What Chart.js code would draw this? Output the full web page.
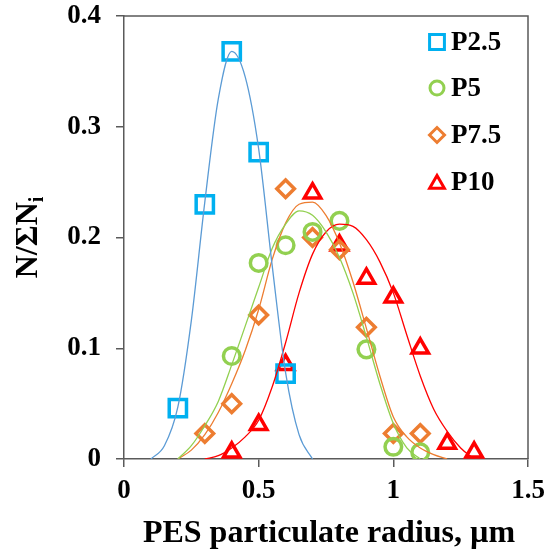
<!DOCTYPE html>
<html>
<head>
<meta charset="utf-8">
<script src="https://cdn.jsdelivr.net/npm/chart.js@4.4.0/dist/chart.umd.min.js"></script>
<style>
  body { margin: 0; background: #fff; }
  #wrap { width: 547px; height: 554px; }
</style>
</head>
<body>
<div id="wrap"><canvas id="psd"></canvas></div>
<script>
// measured points
const p25X = [0.2, 0.3, 0.4, 0.5, 0.6];
const p25Y = [0.046, 0.230, 0.368, 0.277, 0.077];
const p5X = [0.4, 0.5, 0.6, 0.7, 0.8, 0.9, 1.0, 1.1];
const p5Y = [0.093, 0.177, 0.193, 0.205, 0.215, 0.099, 0.011, 0.006];
const p75X = [0.3, 0.4, 0.5, 0.6, 0.7, 0.8, 0.9, 1.0, 1.1];
const p75Y = [0.023, 0.050, 0.130, 0.244, 0.200, 0.189, 0.119, 0.023, 0.023];
const p10X = [0.4, 0.5, 0.6, 0.7, 0.8, 0.9, 1.0, 1.1, 1.2, 1.3];
const p10Y = [0.006, 0.031, 0.085, 0.240, 0.193, 0.163, 0.146, 0.100, 0.014, 0.006];

// fitted curves
const fit25X = [0.10, 0.15, 0.20, 0.25, 0.30, 0.35, 0.40, 0.45, 0.50, 0.55, 0.60, 0.65, 0.70];
const fit25Y = [0, 0.012, 0.047, 0.125, 0.232, 0.325, 0.368, 0.345, 0.280, 0.175, 0.078, 0.022, 0];
const fit5X = [0.20, 0.25, 0.30, 0.35, 0.40, 0.45, 0.50, 0.55, 0.60, 0.65, 0.70, 0.75, 0.80, 0.85, 0.90, 0.95, 1.00, 1.05, 1.10];
const fit5Y = [0, 0.012, 0.030, 0.052, 0.085, 0.120, 0.155, 0.190, 0.212, 0.224, 0.220, 0.205, 0.182, 0.150, 0.110, 0.068, 0.032, 0.010, 0];
const fit75X = [0.20, 0.25, 0.30, 0.35, 0.40, 0.45, 0.50, 0.55, 0.60, 0.65, 0.70, 0.75, 0.80, 0.85, 0.90, 0.95, 1.00, 1.05, 1.10, 1.15, 1.20];
const fit75Y = [0, 0.008, 0.022, 0.042, 0.068, 0.098, 0.135, 0.180, 0.213, 0.230, 0.232, 0.220, 0.195, 0.160, 0.118, 0.075, 0.038, 0.020, 0.010, 0.004, 0];
const fit10X = [0.30, 0.35, 0.40, 0.45, 0.50, 0.55, 0.60, 0.65, 0.70, 0.75, 0.80, 0.85, 0.90, 0.95, 1.00, 1.05, 1.10, 1.15, 1.20, 1.25, 1.30];
const fit10Y = [0, 0.003, 0.010, 0.020, 0.035, 0.065, 0.105, 0.150, 0.185, 0.205, 0.212, 0.210, 0.198, 0.178, 0.150, 0.112, 0.075, 0.045, 0.025, 0.010, 0];

const xTicks = [0, 0.5, 1, 1.5];
const yTicks = [0, 0.1, 0.2, 0.3, 0.4];

const serif = '"Liberation Serif", "Times New Roman", serif';
const axisGray = '#5a5a5a';

function pts(xs, ys) {
  return xs.map((x, i) => ({ x: x, y: ys[i] }));
}

function curve(xs, ys, color) {
  return {
    type: 'line',
    data: pts(xs, ys),
    borderColor: color,
    borderWidth: 1.3,
    pointRadius: 0,
    fill: false,
    cubicInterpolationMode: 'monotone'
  };
}

function markers(label, xs, ys, color, style, r) {
  return {
    type: 'scatter',
    label: label,
    data: pts(xs, ys),
    pointStyle: style,
    pointRadius: r,
    pointBorderWidth: 3.5,
    pointBorderColor: color,
    pointBackgroundColor: 'rgba(255,255,255,0)',
    showLine: false
  };
}

// legend entries (drawn inside the plot box)
const legendItems = [
  { text: 'P2.5', color: '#00B0F0', style: 'rect', r: 10.5 },
  { text: 'P5', color: '#92D050', style: 'circle', r: 7 },
  { text: 'P7.5', color: '#ED7D31', style: 'rectRot', r: 7.5 },
  { text: 'P10', color: '#FF0000', style: 'triangle', r: 8.5 }
];

const decorPlugin = {
  id: 'decor',
  afterDraw(chart) {
    const ctx = chart.ctx;
    const a = chart.chartArea;
    ctx.save();
    // top and right frame
    ctx.strokeStyle = axisGray;
    ctx.lineWidth = 1.5;
    ctx.beginPath();
    ctx.moveTo(a.left, a.top);
    ctx.lineTo(a.right, a.top);
    ctx.lineTo(a.right, a.bottom);
    ctx.stroke();

    // legend
    const rows = [42, 88, 135, 182];
    legendItems.forEach((it, i) => {
      ctx.strokeStyle = it.color;
      ctx.fillStyle = 'rgba(255,255,255,0)';
      ctx.lineWidth = 3;
      Chart.helpers.drawPoint(ctx, {
        pointStyle: it.style, radius: it.r, rotation: 0, borderWidth: 3
      }, 437, rows[i] + (it.style === 'triangle' ? 2 : 0));
      ctx.fillStyle = '#000';
      ctx.font = 'bold 27px ' + serif;
      ctx.textAlign = 'left';
      ctx.textBaseline = 'middle';
      ctx.fillText(it.text, 451, rows[i] + 1);
    });

    // x title
    ctx.fillStyle = '#000';
    ctx.font = 'bold 32px ' + serif;
    ctx.textAlign = 'center';
    ctx.textBaseline = 'alphabetic';
    ctx.fillText('PES particulate radius, \u00b5m', (a.left + a.right) / 2 + 3, 542);

    // y title with subscript
    ctx.translate(37, (a.top + a.bottom) / 2);
    ctx.rotate(-Math.PI / 2);
    const main = 'N/\u03a3N';
    ctx.font = 'bold 32px ' + serif;
    const w1 = ctx.measureText(main).width;
    ctx.font = 'bold 20px ' + serif;
    const w2 = ctx.measureText('i').width;
    const start = -(w1 + w2) / 2;
    ctx.textAlign = 'left';
    ctx.font = 'bold 32px ' + serif;
    ctx.fillText(main, start, 0);
    ctx.font = 'bold 20px ' + serif;
    ctx.fillText('i', start + w1, 6);
    ctx.restore();
  }
};

new Chart(document.getElementById('psd'), {
  data: {
    datasets: [
      curve(fit25X, fit25Y, '#5B9BD5'),
      curve(fit5X, fit5Y, '#92D050'),
      curve(fit75X, fit75Y, '#ED7D31'),
      curve(fit10X, fit10Y, '#FF0000'),
      markers('P2.5', p25X, p25Y, '#00B0F0', 'rect', 12.2),
      markers('P5', p5X, p5Y, '#92D050', 'circle', 8.3),
      markers('P7.5', p75X, p75Y, '#ED7D31', 'rectRot', 8.8),
      markers('P10', p10X, p10Y, '#FF0000', 'triangle', 9.5)
    ]
  },
  options: {
    responsive: true,
    maintainAspectRatio: false,
    animation: false,
    layout: { padding: { top: 16, right: 19, left: 0, bottom: 0 } },
    plugins: {
      legend: { display: false },
      tooltip: { enabled: false }
    },
    scales: {
      x: {
        type: 'linear',
        min: 0,
        max: 1.5,
        afterFit(s) { s.height = 95; s.paddingLeft = 0; s.paddingRight = 0; },
        afterBuildTicks(s) { s.ticks = xTicks.map(v => ({ value: v })); },
        grid: { drawOnChartArea: false, tickLength: 8, color: axisGray, lineWidth: 1.5 },
        border: { color: axisGray, width: 1.5 },
        ticks: {
          color: '#000',
          padding: 8,
          maxRotation: 0,
          callback: v => String(v),
          font: { family: serif, size: 27, weight: 'bold' }
        }
      },
      y: {
        type: 'linear',
        min: 0,
        max: 0.4,
        afterFit(s) { s.width = 124; s.paddingTop = 0; s.paddingBottom = 0; },
        afterBuildTicks(s) { s.ticks = yTicks.map(v => ({ value: v })); },
        grid: { drawOnChartArea: false, tickLength: 8, color: axisGray, lineWidth: 1.5 },
        border: { color: axisGray, width: 1.5 },
        ticks: {
          color: '#000',
          padding: 15,
          callback: v => String(v),
          font: { family: serif, size: 27, weight: 'bold' }
        }
      }
    }
  },
  plugins: [decorPlugin]
});
</script>
</body>
</html>
